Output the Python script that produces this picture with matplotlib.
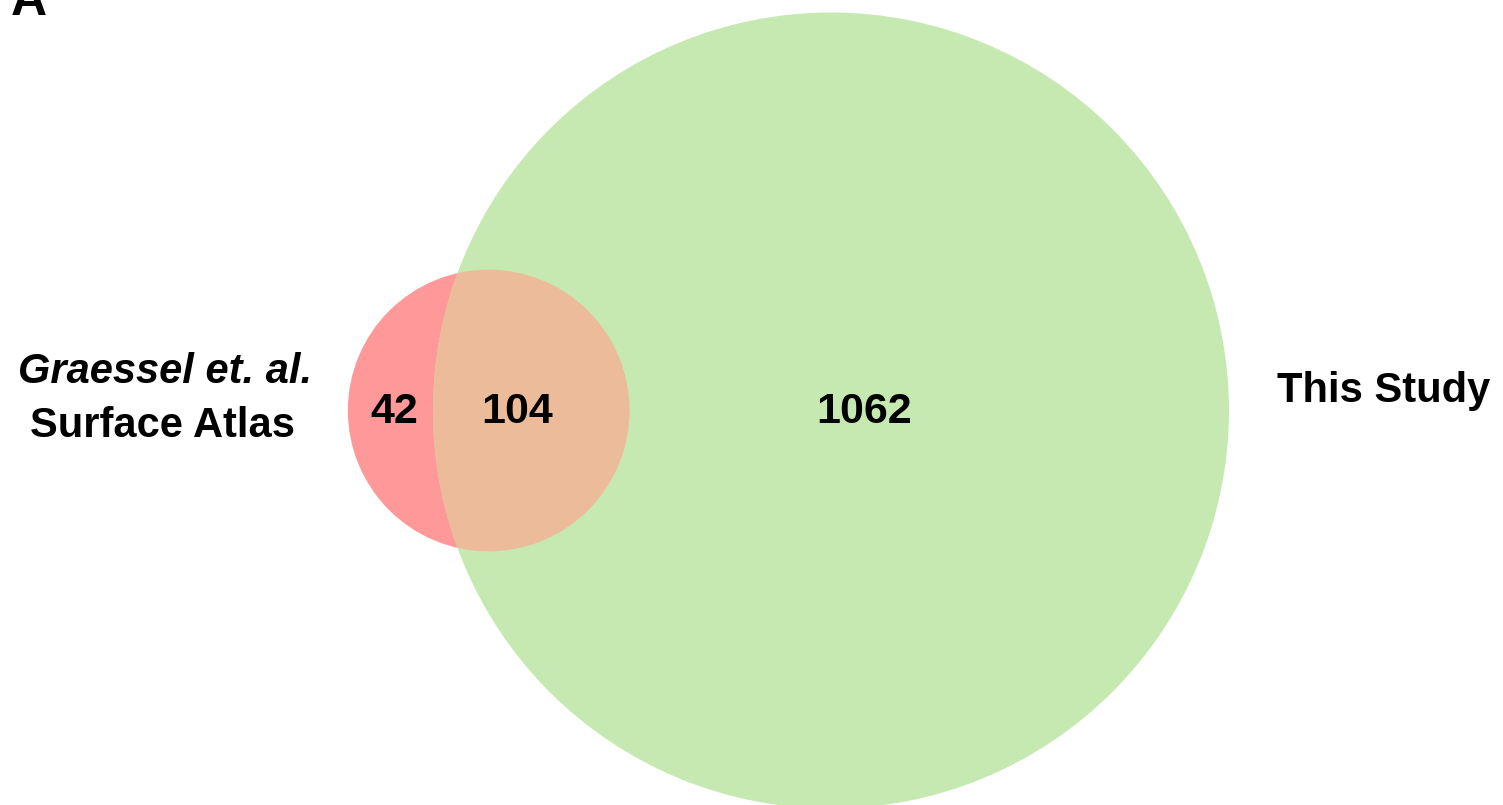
import matplotlib

matplotlib.use("Agg")
import matplotlib.pyplot as plt
import numpy as np
from matplotlib.patches import Circle

# set sizes and region counts
set_names = ["Graessel et. al.", "This Study"]
only_left = 42
shared = 104
only_right = 1062

COL_LEFT = "#ff9999"
COL_RIGHT = "#c6e9b1"
COL_BOTH = "#ecbb99"
FONT = "Liberation Sans"


def overlap_area(r1, r2, d):
    if d >= r1 + r2:
        return 0.0
    if d <= abs(r1 - r2):
        return np.pi * min(r1, r2) ** 2
    a1 = r1**2 * np.arccos((d**2 + r1**2 - r2**2) / (2 * d * r1))
    a2 = r2**2 * np.arccos((d**2 + r2**2 - r1**2) / (2 * d * r2))
    a3 = 0.5 * np.sqrt((-d + r1 + r2) * (d + r1 - r2) * (d - r1 + r2) * (d + r1 + r2))
    return a1 + a2 - a3


def solve_distance(r1, r2, target):
    lo, hi = abs(r1 - r2), r1 + r2
    for _ in range(100):
        mid = 0.5 * (lo + hi)
        if overlap_area(r1, r2, mid) > target:
            lo = mid
        else:
            hi = mid
    return 0.5 * (lo + hi)


def main():
    W, H = 1503, 805
    fig = plt.figure(figsize=(W / 100, H / 100), dpi=100)
    ax = fig.add_axes([0, 0, 1, 1])
    ax.set_xlim(0, W)
    ax.set_ylim(H, 0)
    ax.set_aspect("equal")
    ax.axis("off")

    # area in px^2 per item, scaled so the large set fills the height
    n_left = only_left + shared
    n_right = only_right + shared
    r_right = 398.0
    k = np.pi * r_right**2 / n_right
    r_left = np.sqrt(k * n_left / np.pi)
    d = solve_distance(r_left, r_right, k * shared)

    cx_right, cy = 831.0, 410.5
    cx_left = cx_right - d

    left = Circle((cx_left, cy), r_left, facecolor=COL_LEFT, edgecolor="none")
    right = Circle((cx_right, cy), r_right, facecolor=COL_RIGHT, edgecolor="none")
    ax.add_patch(left)
    ax.add_patch(right)
    both = Circle((cx_left, cy), r_left, facecolor=COL_BOTH, edgecolor="none")
    ax.add_patch(both)
    both.set_clip_path(right)

    num_kw = dict(fontsize=31, fontweight="bold", family=FONT, ha="center", va="baseline")
    ax.text(394, 423, str(only_left), **num_kw)
    ax.text(517, 423, str(shared), **num_kw)
    ax.text(864, 423, str(only_right), **num_kw)

    lab_kw = dict(fontsize=30, fontweight="bold", family=FONT, ha="center", va="baseline")
    ax.text(165, 383, set_names[0], style="italic", **lab_kw)
    ax.text(162, 437, "Surface Atlas", **lab_kw)
    ax.text(1384, 402, set_names[1], **lab_kw)

    ax.text(11, 15, "A", fontsize=36, fontweight="bold", family=FONT, ha="left", va="baseline")

    fig.savefig("out.png", dpi=100)
    plt.close(fig)


if __name__ == "__main__":
    main()
